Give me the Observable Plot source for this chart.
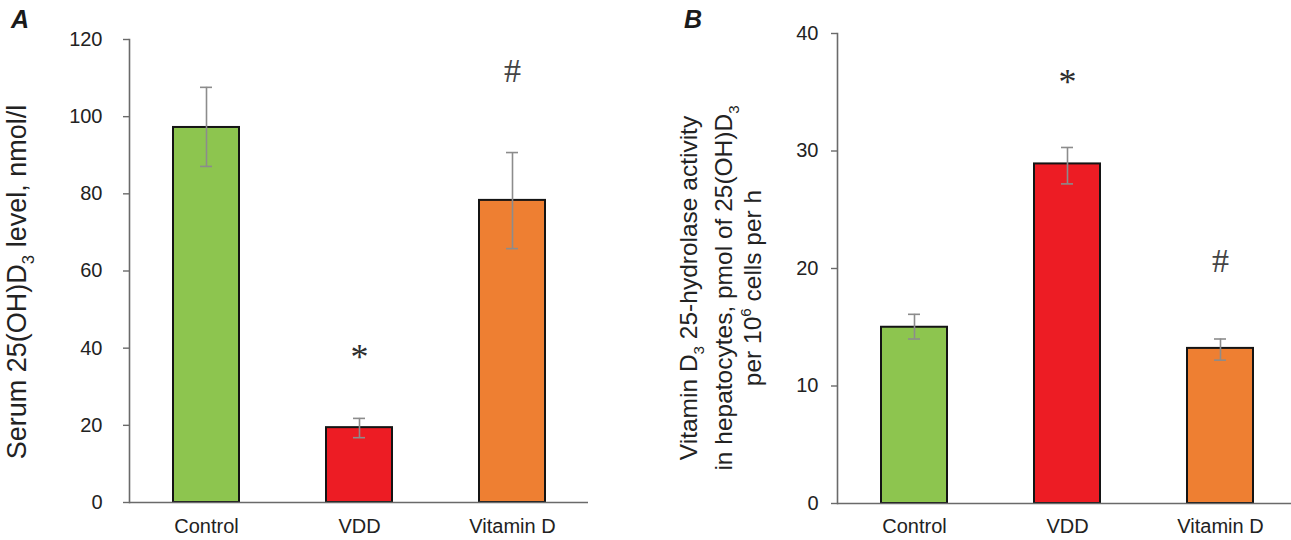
<!DOCTYPE html>
<html>
<head>
<meta charset="utf-8">
<script src="https://cdn.jsdelivr.net/npm/d3@7"></script>
<script src="https://cdn.jsdelivr.net/npm/@observablehq/plot@0.6"></script>
<style>
  body { margin: 0; background: #fff; }
  #wrap { position: relative; width: 1291px; height: 540px; overflow: hidden; background: #fff; }
  .panel { position: absolute; top: 0; }
  .letter { position: absolute; top: 7px; font: italic bold 25px "Liberation Sans", Arial, sans-serif; color: #1a1a1a; line-height: 1; }
</style>
</head>
<body>
<div id="wrap">
  <div class="letter" style="left:11px">A</div>
  <div class="letter" style="left:684px">B</div>
</div>
<script>
// ---- data ----
const categories = ["Control", "VDD", "Vitamin D"];
const barColors = ["#8DC54F", "#ED1C24", "#EE7F32"];

// Panel A: serum 25(OH)D3, nmol/l
const serumMean = [97.2, 19.4, 78.3];
const serumLow  = [87.1, 16.8, 65.8];
const serumHigh = [107.6, 21.8, 90.7];
const serumTicks = [0, 20, 40, 60, 80, 100, 120];
const serumSymbols = ["*", "#"];
const serumSymbolGroups = ["VDD", "Vitamin D"];
const serumSymbolY = [39, 111];

// Panel B: 25-hydrolase activity
const hydMean = [15.0, 28.9, 13.2];
const hydLow  = [14.0, 27.2, 12.2];
const hydHigh = [16.1, 30.3, 14.0];
const hydTicks = [0, 10, 20, 30, 40];
const hydSymbols = ["*", "#"];
const hydSymbolGroups = ["VDD", "Vitamin D"];
const hydSymbolY = [36.3, 20.4];

// axis titles (segments: text, kind)
const serumLabel = [[["Serum 25(OH)D", ""], ["3", "sub"], [" level, nmol/l", ""]]];
const hydLabel = [
  [["Vitamin D", ""], ["3", "sub"], [" 25-hydrolase activity", ""]],
  [["in hepatocytes, pmol of 25(OH)D", ""], ["3", "sub"]],
  [["per 10", ""], ["6", "sup"], [" cells per h", ""]]
];

const FONT = '"Liberation Sans", Arial, sans-serif';

function makePanel(o) {
  const rows = categories.map((c, i) => ({group: c, mean: o.mean[i], low: o.low[i], high: o.high[i]}));
  const syms = o.symbols.map((s, i) => ({s, group: o.symbolGroups[i], y: o.symbolY[i]}));
  const xOpts = {domain: categories, paddingInner: 0.57, paddingOuter: 0.285, label: null};
  if (o.xRange) xOpts.range = o.xRange;
  const svg = Plot.plot({
    width: o.width, height: 540,
    marginLeft: o.marginLeft, marginRight: o.marginRight,
    marginTop: o.marginTop, marginBottom: o.marginBottom,
    x: xOpts,
    y: {domain: [0, o.yMax], label: null},
    color: {domain: categories, range: barColors},
    style: {fontFamily: FONT, fontSize: "20px", color: "#222", background: "transparent", overflow: "visible"},
    marks: [
      Plot.barY(rows, {x: "group", y: "mean", fill: "group", stroke: "#141414", strokeWidth: 2}),
      Plot.ruleX(rows, {x: "group", y1: "low", y2: "high", stroke: "#8c8c8c", strokeWidth: 1.6}),
      Plot.tickY(rows, {x: "group", y: "low", stroke: "#8c8c8c", strokeWidth: 1.6, insetLeft: 27, insetRight: 27}),
      Plot.tickY(rows, {x: "group", y: "high", stroke: "#8c8c8c", strokeWidth: 1.6, insetLeft: 27, insetRight: 27}),
      Plot.ruleY([0], {stroke: "#6a6a6a", strokeWidth: 1.6}),
      Plot.frame({anchor: "left", stroke: "#6a6a6a", strokeWidth: 1.6}),
      Plot.axisY({ticks: o.ticks, tickSize: 6, tickPadding: o.yTickPadding, stroke: "#6a6a6a", strokeWidth: 1.4, label: null, fontSize: 20}),
      Plot.axisX({tickSize: 0, tickPadding: o.xTickPadding, label: null, fontSize: 20}),
      Plot.text(syms.filter(d => d.s === "*"), {x: "group", y: "y", text: "s", fontFamily: '"Liberation Serif", serif', fontSize: 36, fill: "#2e2e2e", dy: 5}),
      Plot.text(syms.filter(d => d.s === "#"), {x: "group", y: "y", text: "s", fontFamily: '"Liberation Serif", serif', fontSize: 34, fill: "#444", dy: -3})
    ]
  });
  svg.classList.add("panel");
  svg.style.left = o.left + "px";
  // rotated axis title
  const g = d3.select(svg);
  o.label.forEach((line, li) => {
    const t = g.append("text")
      .attr("transform", `translate(${o.labelX[li]},${o.labelY}) rotate(-90)`)
      .attr("text-anchor", "middle")
      .attr("dy", "0.35em")
      .attr("fill", "#222")
      .style("font-family", FONT)
      .style("font-size", o.labelSize + "px");
    let shift = 0;
    line.forEach(([txt, kind]) => {
      const ts = t.append("tspan").text(txt);
      let target = 0;
      if (kind === "sub") { ts.style("font-size", (o.labelSize * 0.62) + "px"); target = o.labelSize * 0.3; }
      if (kind === "sup") { ts.style("font-size", (o.labelSize * 0.62) + "px"); target = -o.labelSize * 0.42; }
      ts.attr("dy", target - shift);
      shift = target;
    });
  });
  document.getElementById("wrap").appendChild(svg);
}

makePanel({
  mean: serumMean, low: serumLow, high: serumHigh, ticks: serumTicks, yMax: 120,
  symbols: serumSymbols, symbolGroups: serumSymbolGroups, symbolY: serumSymbolY,
  width: 645, left: 0, marginLeft: 129, marginRight: 57, marginTop: 39, marginBottom: 38,
  yTickPadding: 21, xTickPadding: 16,
  label: serumLabel, labelX: [26], labelY: 282, labelSize: 27
});

makePanel({
  mean: hydMean, low: hydLow, high: hydHigh, ticks: hydTicks, yMax: 40,
  symbols: hydSymbols, symbolGroups: hydSymbolGroups, symbolY: hydSymbolY,
  width: 646, left: 645, marginLeft: 192, marginRight: 0, marginTop: 33, marginBottom: 37,
  xRange: [192, 651],
  yTickPadding: 13, xTickPadding: 15,
  label: hydLabel, labelX: [52, 87, 116], labelY: 288, labelSize: 24.5
});
</script>
</body>
</html>
